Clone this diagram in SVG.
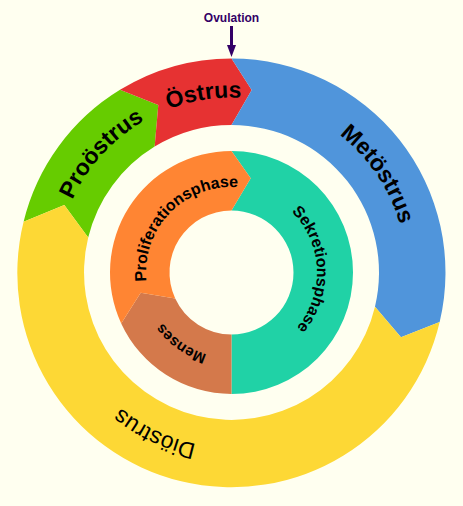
<svg xmlns="http://www.w3.org/2000/svg" width="463" height="506" viewBox="0 0 463 506">
<style>
.lbl{font-family:"Liberation Sans",Arial,sans-serif;fill:#000}
.out{font-size:23px;font-weight:bold}
.dio{font-size:23px;font-weight:normal}
.inn{font-size:16px;font-weight:bold}
</style>
<defs>
<path id="cOut" d="M231.5,97.5 A175,175 0 1 1 231.5,447.5 A175,175 0 1 1 231.5,97.5 A175,175 0 1 1 231.5,447.5 A175,175 0 1 1 231.5,97.5"/>
<path id="cIn" d="M231.5,187 A85.5,85.5 0 1 1 231.5,358 A85.5,85.5 0 1 1 231.5,187 A85.5,85.5 0 1 1 231.5,358 A85.5,85.5 0 1 1 231.5,187"/>
<marker id="ah" markerWidth="4" markerHeight="3" refX="0" refY="1.5" orient="auto" markerUnits="strokeWidth">
<path d="M0,0 L4,1.5 L0,3 Z" fill="#330066"/>
</marker>
</defs>
<rect width="463" height="506" fill="#FFFFF0"/>
<g id="prooestrus">
<path d="M23.59,221.82 A214,214 0 0 1 120,89.84 L158.3,105 L154.65,146.6 A147.5,147.5 0 0 0 88.2,237.57 L64.3,205 Z" fill="#66CC00"/>
<text class="lbl out"><textPath href="#cOut" startOffset="953.9" text-anchor="middle">Proöstrus</textPath></text>
</g>
<g id="oestrus">
<path d="M120,89.84 A214,214 0 0 1 231.5,58.5 L251.7,90 L231.5,125 A147.5,147.5 0 0 0 154.65,146.6 L158.3,105 Z" fill="#E63232"/>
<text class="lbl out"><textPath href="#cOut" startOffset="1072.1" text-anchor="middle">Östrus</textPath></text>
</g>
<g id="metoestrus">
<path d="M231.5,58.5 A214,214 0 0 1 439.67,322.09 L401,337.3 L374.99,306.68 A147.5,147.5 0 0 0 231.5,125 L251.7,90 Z" fill="#5095DB"/>
<text class="lbl out"><textPath href="#cOut" startOffset="1270.6" text-anchor="middle">Metöstrus</textPath></text>
</g>
<g id="dioestrus">
<path d="M439.67,322.09 A214,214 0 1 1 23.59,221.82 L64.3,205 L88.2,237.57 A147.5,147.5 0 1 0 374.99,306.68 L401,337.3 Z" fill="#FDD835"/>
<text class="lbl dio"><textPath href="#cOut" startOffset="627.4" text-anchor="middle">Diöstrus</textPath></text>
</g>
<g id="sekretionsphase">
<path d="M231.5,151 A121.5,121.5 0 0 1 231.5,394 L231.5,334.5 A62,62 0 0 0 231.5,210.5 L250.7,178.3 Z" fill="#20D2A6"/>
<text class="lbl inn"><textPath href="#cIn" startOffset="666.7" text-anchor="middle">Sekretionsphase</textPath></text>
</g>
<g id="menses">
<path d="M231.5,394 A121.5,121.5 0 0 1 121.2,323.46 L140.7,292.7 L175.22,298.51 A62,62 0 0 0 231.5,334.5 Z" fill="#D4794B"/>
<text class="lbl inn" style="font-size:15px"><textPath href="#cIn" startOffset="320.8" text-anchor="middle">Menses</textPath></text>
</g>
<g id="proliferationsphase">
<path d="M121.2,323.46 A121.5,121.5 0 0 1 231.5,151 L250.7,178.3 L231.5,210.5 A62,62 0 0 0 175.22,298.51 L140.7,292.7 Z" fill="#FF8533"/>
<text class="lbl inn"><textPath href="#cIn" startOffset="468.1" text-anchor="middle">Proliferationsphase</textPath></text>
</g>
<g id="ovulation">
<text x="231.5" y="22" text-anchor="middle" style="font-family:'Liberation Sans',Arial,sans-serif;font-size:12px;font-weight:bold;fill:#330066">Ovulation</text>
</g>
<g id="connectors">
<line x1="231.5" y1="26" x2="231.5" y2="45" stroke="#330066" stroke-width="3" marker-end="url(#ah)"/>
</g>
</svg>
